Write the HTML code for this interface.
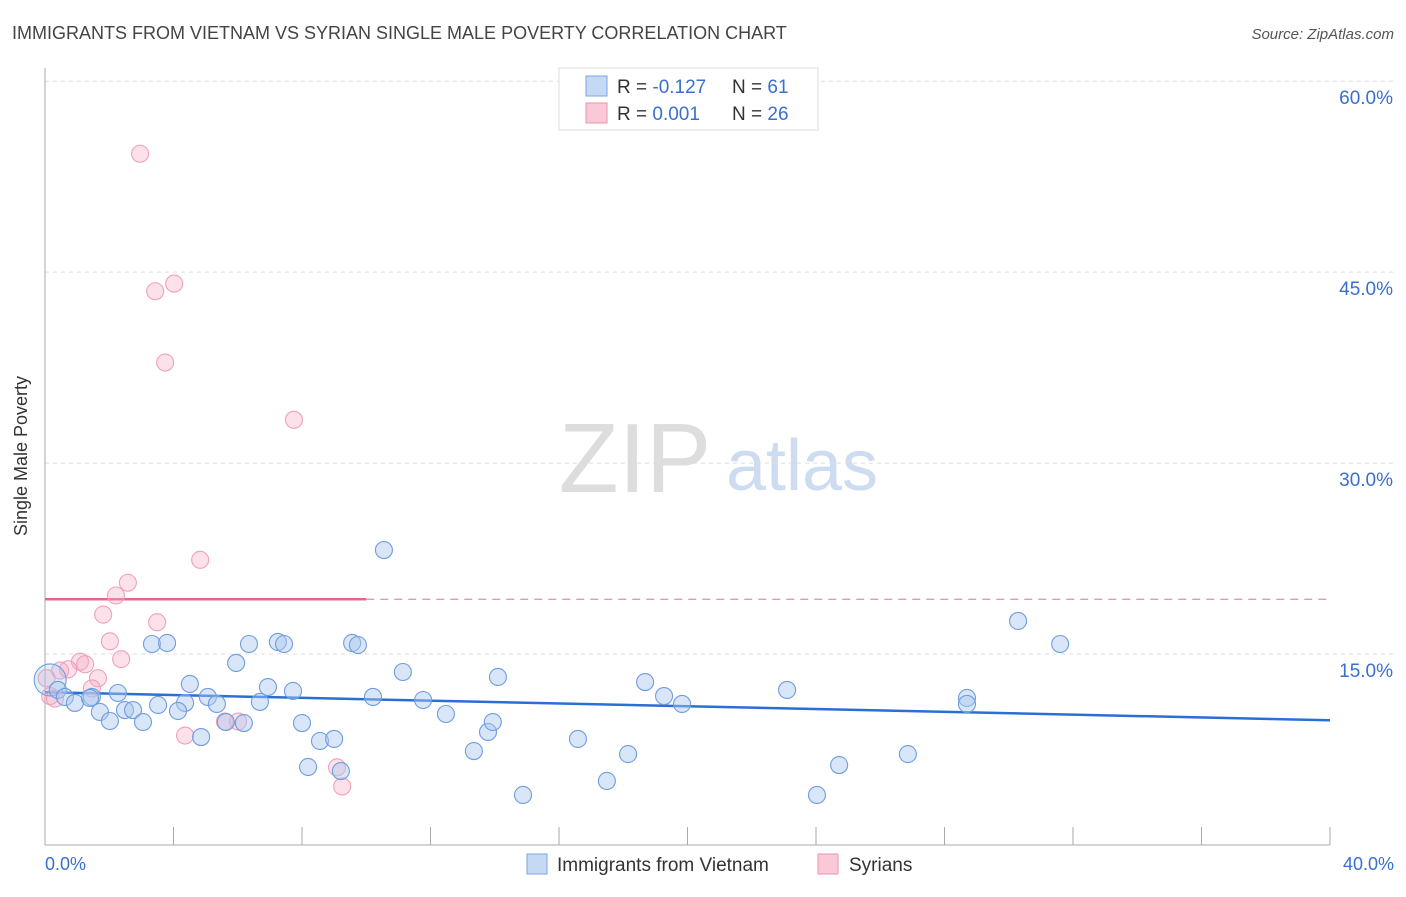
<!DOCTYPE html>
<html><head><meta charset="utf-8"><style>
body{margin:0;background:#fff;font-family:"Liberation Sans",sans-serif;}
svg text{font-family:"Liberation Sans",sans-serif;}
</style></head><body>
<svg width="1406" height="892">
<text x="12" y="39" font-size="18" fill="#444">IMMIGRANTS FROM VIETNAM VS SYRIAN SINGLE MALE POVERTY CORRELATION CHART</text>
<text x="1394" y="39" font-size="15" fill="#555" font-style="italic" text-anchor="end">Source: ZipAtlas.com</text>
<g>
<text x="635" y="492" font-size="98" fill="#ddd" font-family="Liberation Serif" text-anchor="middle">ZIP</text>
<text x="802" y="490" font-size="72" fill="#cddcf0" text-anchor="middle">atlas</text>
</g>
<g id="grid"></g>
<line x1="45" y1="68" x2="45" y2="845" stroke="#aaa"/>
<line x1="45" y1="845" x2="1330" y2="845" stroke="#aaa"/>
<text x="27" y="456" font-size="18" fill="#333" transform="rotate(-90 27 456)" text-anchor="middle">Single Male Poverty</text>
<text x="45" y="870" font-size="18" fill="#3a6fd0">0.0%</text>
<text x="1394" y="870" font-size="18" fill="#3a6fd0" text-anchor="end">40.0%</text>
<g id="trend"></g>
<g id="pts"></g>
<g>
<rect x="559" y="68" width="259" height="62" fill="#fff" stroke="#ddd"/>
<rect x="586" y="76" width="21" height="20" fill="#c5d9f5" stroke="#7aa5e6"/>
<rect x="586" y="103" width="21" height="20" fill="#fac9d8" stroke="#ee91ad"/>
<text x="617" y="93" font-size="19" fill="#333">R = <tspan fill="#3a6fd0">-0.127</tspan></text>
<text x="732" y="93" font-size="19" fill="#333">N = <tspan fill="#3a6fd0"> 61</tspan></text>
<text x="617" y="120" font-size="19" fill="#333">R = <tspan fill="#3a6fd0"> 0.001</tspan></text>
<text x="732" y="120" font-size="19" fill="#333">N = <tspan fill="#3a6fd0">26</tspan></text>
</g>
<g>
<rect x="527" y="854" width="20" height="20" fill="#c5d9f5" stroke="#7aa5e6"/>
<text x="557" y="871" font-size="19" fill="#333">Immigrants from Vietnam</text>
</g>
<g>
<rect x="818" y="854" width="20" height="20" fill="#fac9d8" stroke="#ee91ad"/>
<text x="849" y="871" font-size="19" fill="#333">Syrians</text>
</g>
</svg>
<script>
const yTicks=[15,30,45,60];
const xTicks=[0,4,8,12,16,20,24,28,32,36,40];
const blueX=[0.16,0.4,0.62,0.93,1.46,1.71,2.02,2.27,2.49,2.74,3.05,3.33,3.8,3.52,4.36,4.14,4.51,4.86,5.07,5.35,5.63,5.95,6.19,6.35,6.69,6.94,7.25,7.44,7.72,8.0,8.19,8.56,9.0,9.21,9.56,9.74,10.21,10.55,11.14,11.77,12.48,13.35,13.79,13.94,14.1,14.88,16.59,17.49,18.15,18.68,19.27,19.83,23.1,24.03,24.72,26.86,28.7,28.7,30.29,31.6,1.4];
const blueY=[12.97,12.18,11.63,11.16,11.63,10.45,9.74,11.94,10.6,10.6,9.66,15.79,15.87,11.0,11.16,10.53,12.65,8.48,11.63,11.08,9.66,14.3,9.58,15.79,11.24,12.41,15.95,15.79,12.1,9.58,6.13,8.17,8.33,5.81,15.87,15.71,11.63,23.17,13.59,11.39,10.29,7.38,8.88,9.66,13.2,3.93,8.33,5.03,7.14,12.8,11.7,11.08,12.18,3.93,6.28,7.14,11.55,11.08,17.6,15.79,11.55];
const pinkX=[2.96,3.43,4.02,3.74,7.75,4.83,2.58,2.21,1.81,3.49,2.02,2.37,1.09,1.25,0.72,0.47,1.65,1.46,0.16,0.31,4.36,5.6,6.01,9.09,9.25,0.05];
const pinkY=[54.3,43.5,44.1,37.9,33.4,22.4,20.6,19.6,18.1,17.5,16.0,14.6,14.4,14.2,13.8,13.7,13.1,12.3,11.7,11.5,8.6,9.7,9.7,6.1,4.6,13.1];
const blueTrend=[12.0,9.8];
const pinkTrend=[19.3,19.3];
const pinkSolidEnd=10;
const NS="http://www.w3.org/2000/svg";
const sx=v=>45+v*32.125, sy=v=>845-v*12.73;
function mk(t,a,p){const e=document.createElementNS(NS,t);for(const k in a)e.setAttribute(k,a[k]);p.appendChild(e);return e;}
const grid=document.getElementById('grid');
yTicks.forEach(v=>{
 const l=mk('line',{x1:45,x2:1394,y1:sy(v),y2:sy(v),stroke:'#ddd','stroke-dasharray':'4 4'},grid);
 
 
 const t=mk('text',{x:1393,y:sy(v)+23,'font-size':19,fill:'#3a6fd0','text-anchor':'end'},grid);
 t.textContent=v.toFixed(1)+'%';
 
 
});
xTicks.forEach(v=>{
 const l=mk('line',{x1:sx(v),x2:sx(v),y1:827,y2:845,stroke:'#aaa'},grid);
 
 
});
const tr=document.getElementById('trend');
let l=mk('line',{x1:sx(0),x2:sx(40),y1:sy(blueTrend[0]),y2:sy(blueTrend[1]),stroke:'#2a6fd6','stroke-width':2.5},tr);


l=mk('line',{x1:sx(0),x2:sx(pinkSolidEnd),y1:sy(pinkTrend[0]),y2:sy(pinkTrend[0]),stroke:'#e0688f','stroke-width':2.5},tr);


l=mk('line',{x1:sx(pinkSolidEnd),x2:sx(40),y1:sy(pinkTrend[0]),y2:sy(pinkTrend[1]),stroke:'#e59ab3','stroke-width':1.3,'stroke-dasharray':'8 6'},tr);


const pts=document.getElementById('pts');
pinkX.forEach((x,i)=>{
 const c=mk('circle',{cx:sx(x),cy:sy(pinkY[i]),r:8.5,fill:'rgba(246,170,195,0.35)',stroke:'#f0a0bb','stroke-width':1.1},pts);
 
 
});
blueX.forEach((x,i)=>{
 const c=mk('circle',{cx:sx(x),cy:sy(blueY[i]),r:i==0?16:8.5,fill:i==0?'rgba(160,195,240,0.3)':'rgba(170,200,240,0.45)',stroke:'#6e9de0','stroke-width':1.1},pts);
 
 
});
</script>
</body></html>
